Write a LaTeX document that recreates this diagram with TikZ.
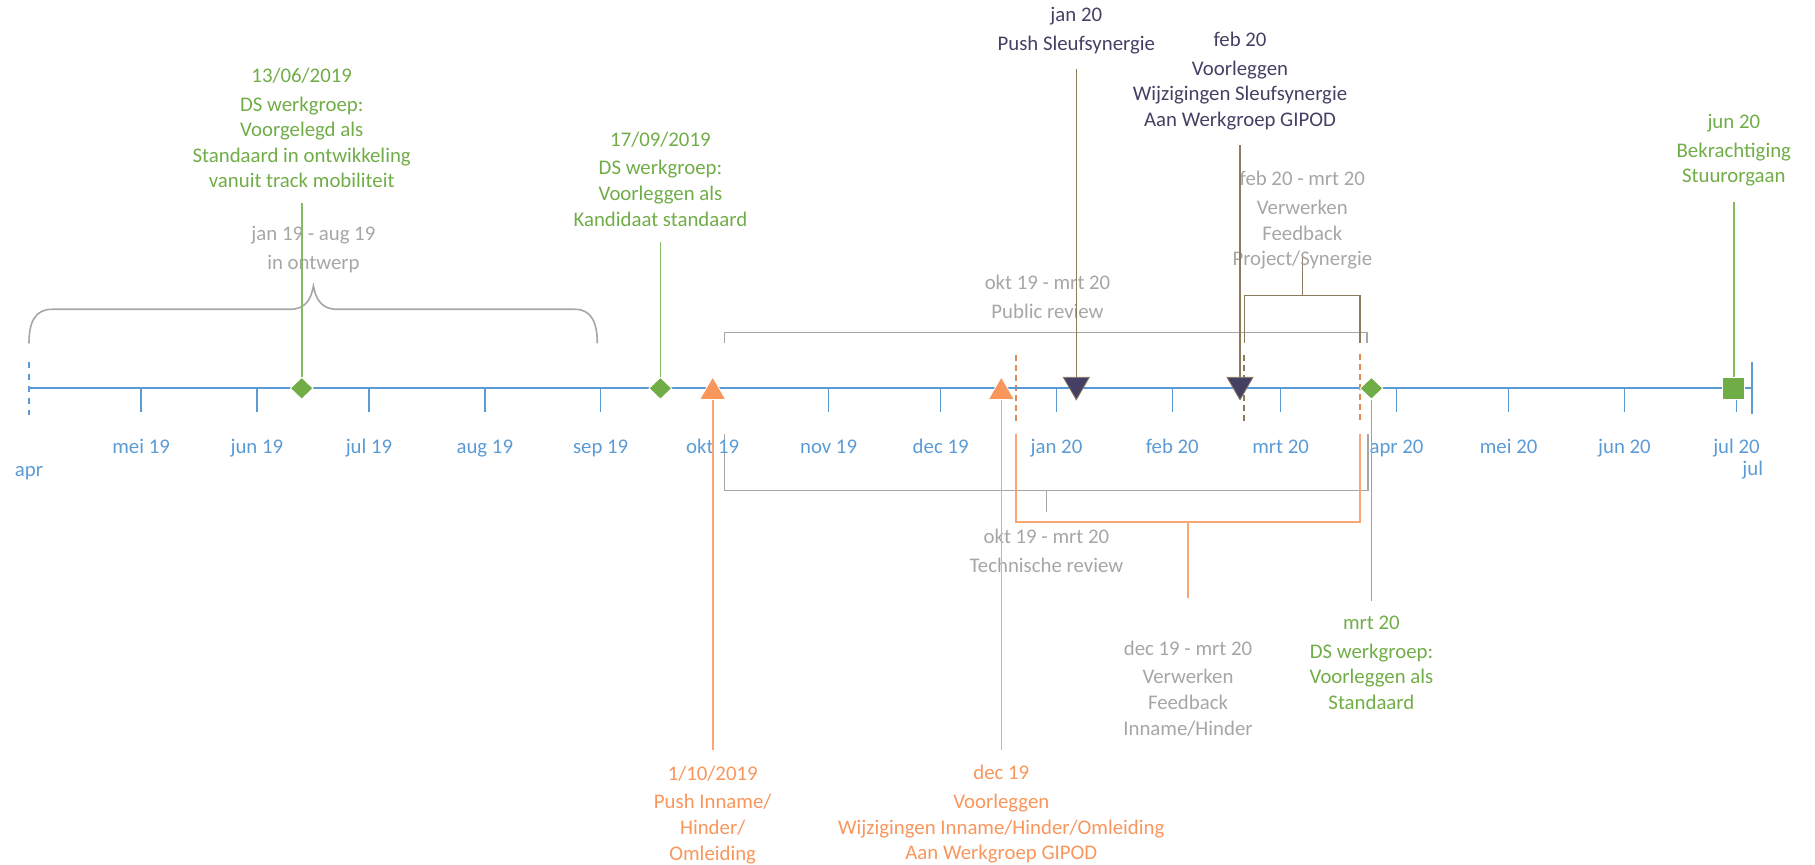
\documentclass[tikz,border=0pt]{standalone}
\usepackage{fontspec}
\setmainfont{Carlito}
\usetikzlibrary{shapes.geometric,positioning}

\definecolor{tlblue}{RGB}{91,155,213}
\definecolor{dsgreen}{RGB}{112,173,71}
\definecolor{pushorange}{RGB}{248,150,92}
\definecolor{dashorange}{RGB}{222,138,84}
\definecolor{navy}{RGB}{68,64,100}
\definecolor{sleuftan}{RGB}{140,122,92}
\definecolor{periodgrey}{RGB}{166,166,166}

\tikzset{
  lbl/.style={font=\fontsize{10.4}{12.8}\selectfont, align=center, inner sep=0pt},
  month/.style={lbl, text=tlblue, anchor=base},
  period/.style={lbl, text=periodgrey},
  axisline/.style={tlblue, line width=1pt},
  monthtick/.style={tlblue, line width=0.8pt},
  periodline/.style={periodgrey, line width=0.8pt},
  feedbackline/.style={pushorange!85, line width=0.9pt},
  feedbackdash/.style={dashorange, line width=0.9pt, dash pattern=on 3pt off 2pt},
  sleufline/.style={sleuftan, line width=0.8pt},
  sleufdash/.style={sleuftan, line width=0.8pt, dash pattern=on 3pt off 2pt},
  msline/.style={line width=0.8pt, shorten <=7.5pt},
  dsdiamond/.style={diamond, fill=dsgreen, draw=white, line width=0.4pt, minimum width=11.5pt, minimum height=11pt, inner sep=0pt},
  dssquare/.style={rectangle, fill=dsgreen, draw=white, line width=0.4pt, minimum size=11pt, inner sep=0pt},
  pushup/.style={regular polygon, regular polygon sides=3, minimum size=15pt, inner sep=0pt, fill=pushorange, draw=white, line width=0.4pt},
  pushdown/.style={regular polygon, regular polygon sides=3, shape border rotate=180, minimum size=15pt, inner sep=0pt, fill=navy, draw=sleuftan, line width=0.4pt}
}

\begin{document}
\begin{tikzpicture}[x=0.5pt,y=-0.5pt]
\useasboundingbox (0,0) rectangle (1815,865);

\draw[periodline] (29,343.3) .. controls (29,322) and (35,309.3) .. (52,309.3) -- (290,309.3)
  .. controls (305,309.3) and (311,300) .. (313.4,286) .. controls (316,300) and (322,309.3) .. (337,309.3)
  -- (575,309.3) .. controls (591,309.3) and (597.3,322) .. (597.3,343.3);
\draw[periodline] (724.6,343.3) |- (1367,332.7) -- (1367,343.3);
\draw[periodline] (724.6,434) |- (1046.4,490.7) coordinate (techmid) -| (1367.8,434);

\draw[feedbackdash] (1015.8,355) -- (1015.8,424);
\draw[feedbackdash] (1360,354) -- (1360,424);
\draw[feedbackline] (1015.8,434) |- (1188,521.7) coordinate (inmid) -| (1360,434);

\draw[sleufdash] (1243.8,355) -- (1243.8,424);
\draw[sleufline] (1244.3,342.7) |- (1302.3,295.7) coordinate (projmid) -| (1360,342.7);
\coordinate (projtop) at (1302.3,257.3);
\draw[sleufline] (projmid) -- (projtop);

\coordinate (tstart) at (29,388.3);
\coordinate (tend) at (1752.3,388.3);
\draw[axisline] (tstart) -- (tend);
\draw[axisline,dashed] (29,362) -- (29,415);
\draw[axisline] (1752.3,362.5) -- (1752.3,414.5);
\foreach \d/\m [count=\i] in {30/mei 19,61/jun 19,91/jul 19,122/aug 19,153/sep 19,183/okt 19,214/nov 19,244/dec 19,275/jan 20,306/feb 20,335/mrt 20,366/apr 20,396/mei 20,427/jun 20,457/jul 20}
{
  \draw[monthtick] ({29+3.7363*\d},388.3) -- ({29+3.7363*\d},411.7);
  \node[month] (month\i) at ({29+3.7363*\d},454) {\m};
}
\node[month] (mapr) at (29,477) {apr};
\node[month] (mjul) at (1752.7,476) {jul};

\node[dsdiamond] (ms0613) at (301.7,388.3) {};
\node[dsdiamond] (ms0917) at (660.4,388.3) {};
\node[dsdiamond] (ms0320) at (1371.4,388.3) {};
\node[dssquare] (ms0620) at (1733.8,388.3) {};
\node[pushup] (po1001) at (712.7,392) {};
\node[pushup] (po1219) at (1001.3,392) {};
\node[pushdown] (pn0106) at (1076.3,384.8) {};
\node[pushdown] (pn0220) at (1240,384.8) {};

\node[lbl, text=dsgreen] (l0613) at (301.7,128) {13/06/2019\\[1.6pt]DS werkgroep:\\Voorgelegd als\\Standaard in ontwikkeling\\vanuit track mobiliteit};
\node[lbl, text=dsgreen] (l0917) at (660.4,179) {17/09/2019\\[1.6pt]DS werkgroep:\\Voorleggen als\\Kandidaat standaard};
\node[lbl, text=navy] (l0106) at (1076.3,30.3) {jan 20\\[1.6pt]Push Sleufsynergie};
\node[lbl, text=navy] (l0220) at (1240,81) {feb 20\\[1.6pt]Voorleggen\\Wijzigingen Sleufsynergie\\Aan Werkgroep GIPOD};
\node[lbl, text=dsgreen] (l0620) at (1733.8,150.3) {jun 20\\[1.6pt]Bekrachtiging\\Stuurorgaan};
\node[lbl, text=pushorange] (l1001) at (712.7,814.7) {1/10/2019\\[1.6pt]Push Inname/\\Hinder/\\Omleiding};
\node[lbl, text=pushorange] (l1219) at (1001.3,814.5) {dec 19\\[1.6pt]Voorleggen\\Wijzigingen Inname/Hinder/Omleiding\\Aan Werkgroep GIPOD};
\node[lbl, text=dsgreen] (l0320) at (1371.4,662.8) {mrt 20\\[1.6pt]DS werkgroep:\\Voorleggen als\\Standaard};

\node[period] (ldesign) at (313.4,249.5) {jan 19 - aug 19\\[1.6pt]in ontwerp};
\node[period] (lpublic) at (1047.5,296.7) {okt 19 - mrt 20\\[1.6pt]Public review};
\node[period] (ltech) at (1046.4,550.8) {okt 19 - mrt 20\\[1.6pt]Technische review};
\node[period] (linname) at (1188,688.3) {dec 19 - mrt 20\\[1.6pt]Verwerken\\Feedback\\Inname/Hinder};
\node[period] (lproject) at (1302.3,220.3) {feb 20 - mrt 20\\[1.6pt]Verwerken\\Feedback\\Project/Synergie};

\draw[periodline, shorten >=8.5pt] (techmid) -- (ltech);
\draw[feedbackline, shorten >=21pt] (inmid) -- (linname);

\draw[msline, dsgreen!85] (l0613) -- (ms0613);
\draw[msline, dsgreen!85] (l0917) -- (ms0917);
\draw[msline, dsgreen!85] (l0620) -- (ms0620);
\draw[msline, dsgreen!85] (l0320) -- (ms0320);
\draw[msline, sleuftan] (l0106) -- (pn0106);
\draw[msline, sleuftan] (l0220) -- (pn0220);
\draw[msline, pushorange!85] (l1001) -- (po1001);
\draw[msline, pushorange!85] (l1219) -- (po1219);

\end{tikzpicture}
\end{document}
